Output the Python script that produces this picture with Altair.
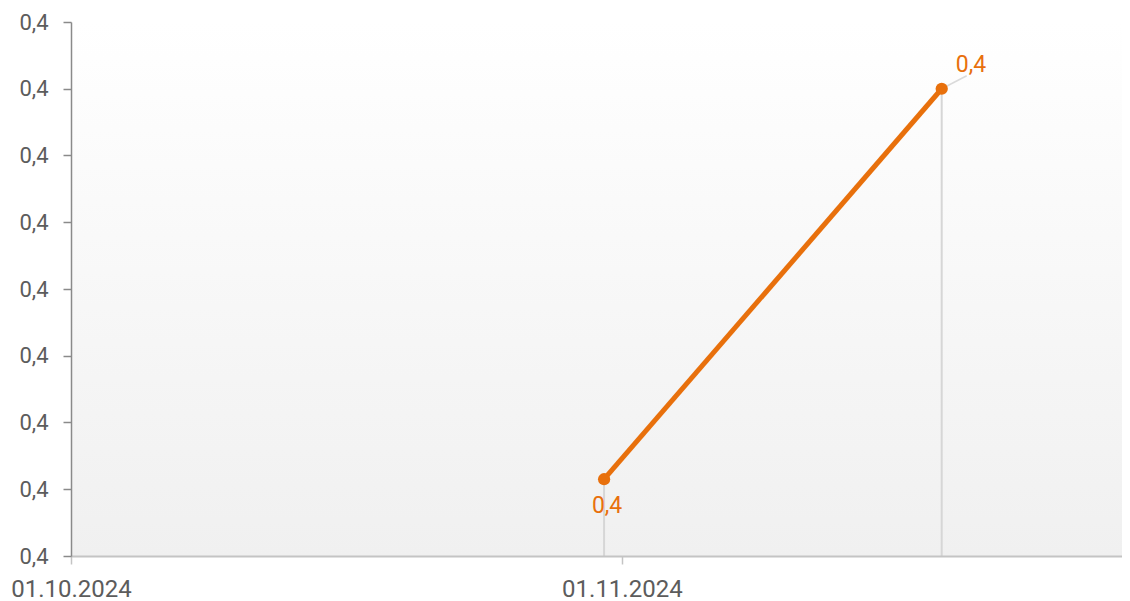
import altair as alt
import pandas as pd

# ---- data ----
dates = ["2024-10-31", "2024-11-19"]
values = [0.40115, 0.407]
y_tick_values = [0.400, 0.401, 0.402, 0.403, 0.404, 0.405, 0.406, 0.407, 0.408]
x_tick_dates = ["2024-10-01", "2024-11-01"]
x_domain = ["2024-10-01", "2024-11-29T03:30:00"]
y_domain = [0.400, 0.408]

ORANGE = "#e8700c"
TEXT = "#5c5c5c"
W, H = 1051, 534


def ms(s):
    return int(pd.Timestamp(s, tz="UTC").timestamp() * 1000)


df = pd.DataFrame({"date": dates, "value": values})

x_enc = alt.X(
    "date:T",
    scale=alt.Scale(type="utc", domain=[ms(x_domain[0]), ms(x_domain[1])]),
    axis=alt.Axis(
        values=[ms(d) for d in x_tick_dates],
        labelExpr="utcFormat(datum.value, '%d.%m.%Y')",
        title=None,
        grid=False,
        domainColor="#c4c4c4",
        domainWidth=2,
        tickColor="#c4c4c4",
        tickWidth=1.5,
        tickSize=8,
        labelFontSize=24,
        labelColor=TEXT,
        labelFont="Roboto",
        labelPadding=13,
        labelFlush=False,
        labelOverlap=False,
        zindex=1,
    ),
)
y_enc = alt.Y(
    "value:Q",
    scale=alt.Scale(domain=y_domain, nice=False, zero=False),
    axis=alt.Axis(
        values=y_tick_values,
        labelExpr="replace(format(datum.value, '.1f'), '.', ',')",
        title=None,
        grid=False,
        domainColor="#8a8a8a",
        domainWidth=1.5,
        tickColor="#8a8a8a",
        tickWidth=1.5,
        tickSize=8,
        labelFontSize=22,
        labelColor=TEXT,
        labelFont="Roboto",
        labelPadding=15,
        labelOverlap=False,
        zindex=1,
    ),
)

base = alt.Chart(df).encode(x=x_enc, y=y_enc)

gradient = alt.LinearGradient(
    gradient="linear",
    stops=[
        alt.GradientStop(color="#ffffff", offset=0),
        alt.GradientStop(color="#f0f0f0", offset=1),
    ],
    x1=0, x2=0, y1=0, y2=1,
)

bg = alt.Chart(alt.Data(values=[{"a": 1}])).mark_rect(fill=gradient).encode(
    x=alt.value(0), x2=alt.value(W), y=alt.value(0), y2=alt.value(H)
)

drops = base.mark_rule(color="#d6d6d6", strokeWidth=2).encode(y2=alt.datum(y_domain[0]))

indexed = base.transform_window(idx="row_number()").transform_calculate(
    label="replace(format(datum.value, '.1f'), '.', ',')"
)

leader = indexed.transform_filter("datum.idx == 2").mark_rule(
    color="#dadada", strokeWidth=1.5, x2Offset=25, y2Offset=-13
).encode(x2="date:T", y2="value:Q")

line = base.mark_line(color=ORANGE, strokeWidth=5)
points = base.mark_circle(color=ORANGE, size=150, opacity=1)

label1 = indexed.transform_filter("datum.idx == 1").mark_text(
    color=ORANGE, font="Roboto", fontSize=23, align="center", baseline="alphabetic", dx=3, dy=34
).encode(text="label:N")
label2 = indexed.transform_filter("datum.idx == 2").mark_text(
    color=ORANGE, font="Roboto", fontSize=23, align="left", baseline="alphabetic", dx=14, dy=-17
).encode(text="label:N")

chart = (
    alt.layer(bg, drops, leader, line, points, label1, label2)
    .properties(
        width=W,
        height=H,
        padding={"left": 63, "top": 14, "right": 0, "bottom": 45},
        autosize=alt.AutoSizeParams(type="none"),
    )
    .configure_view(stroke=None)
    .configure(font="Roboto", background="white")
)

chart.save("out.html", embed_options={"renderer": "svg", "actions": False})
